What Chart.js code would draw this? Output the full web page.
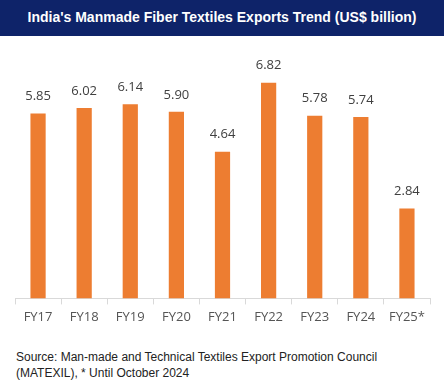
<!DOCTYPE html>
<html>
<head>
<meta charset="utf-8">
<script src="https://cdn.jsdelivr.net/npm/chart.js@4"></script>
<style>
  body { margin: 0; width: 444px; height: 388px; background: #fff; position: relative; overflow: hidden; }
  #title { position: absolute; left: 0; top: 0; width: 444px; height: 36px; background: #0e2369;
    color: #fff; font: bold 14px "Liberation Sans", Arial, sans-serif; text-align: center; line-height: 35px; }
  #box { position: absolute; left: 0; top: 36px; width: 444px; height: 304px; }
  #source { position: absolute; left: 16px; top: 349px; font: 12px "Liberation Sans", Arial, sans-serif;
    color: #222; line-height: 16px; }
</style>
</head>
<body>
<div id="title">India's Manmade Fiber Textiles Exports Trend (US$ billion)</div>
<div id="box"><canvas id="barChart"></canvas></div>
<div id="source">Source: Man-made and Technical Textiles Export Promotion Council<br>(MATEXIL), * Until October 2024</div>
<script>
var years = ['FY17', 'FY18', 'FY19', 'FY20', 'FY21', 'FY22', 'FY23', 'FY24', 'FY25*'];
var exports = [5.85, 6.02, 6.14, 5.90, 4.64, 6.82, 5.78, 5.74, 2.84];

// value labels above the bars
var valueLabels = {
    id: 'valueLabels',
    afterDatasetsDraw: function(chart){
        var ctx = chart.ctx;
        var meta = chart.getDatasetMeta(0);
        ctx.save();
        ctx.fillStyle = '#404040';
        ctx.font = '13px "Open Sans", "Liberation Sans", sans-serif';
        ctx.textAlign = 'center';
        ctx.textBaseline = 'middle';
        meta.data.forEach(function(bar, i){
            ctx.fillText(exports[i].toFixed(2), bar.x, bar.y - 17);
        });
        ctx.restore();
    }
};

const config = {
    type: 'bar',
    data: {
        labels: years,
        datasets: [{
            data: exports,
            backgroundColor: '#ed7d31',
            borderWidth: 0,
            barPercentage: 0.33,
            categoryPercentage: 1
        }]
    },
    options: {
        responsive: true,
        maintainAspectRatio: false,
        animation: false,
        layout: { padding: { left: 15, right: 14, top: 0, bottom: 10 } },
        plugins: { legend: { display: false }, tooltip: { enabled: false } },
        scales: {
            y: { display: false, min: 0, max: 8.3 },
            x: {
                border: { color: '#d9d9d9' },
                grid: { offset: true, drawOnChartArea: false, color: '#d9d9d9', tickLength: 6 },
                ticks: { color: '#555', padding: 5, font: { size: 13, family: '"Open Sans", "Liberation Sans", sans-serif' } }
            }
        }
    },
    plugins: [valueLabels]
};

const barChart = new Chart(document.getElementById('barChart'), config);
</script>
</body>
</html>
